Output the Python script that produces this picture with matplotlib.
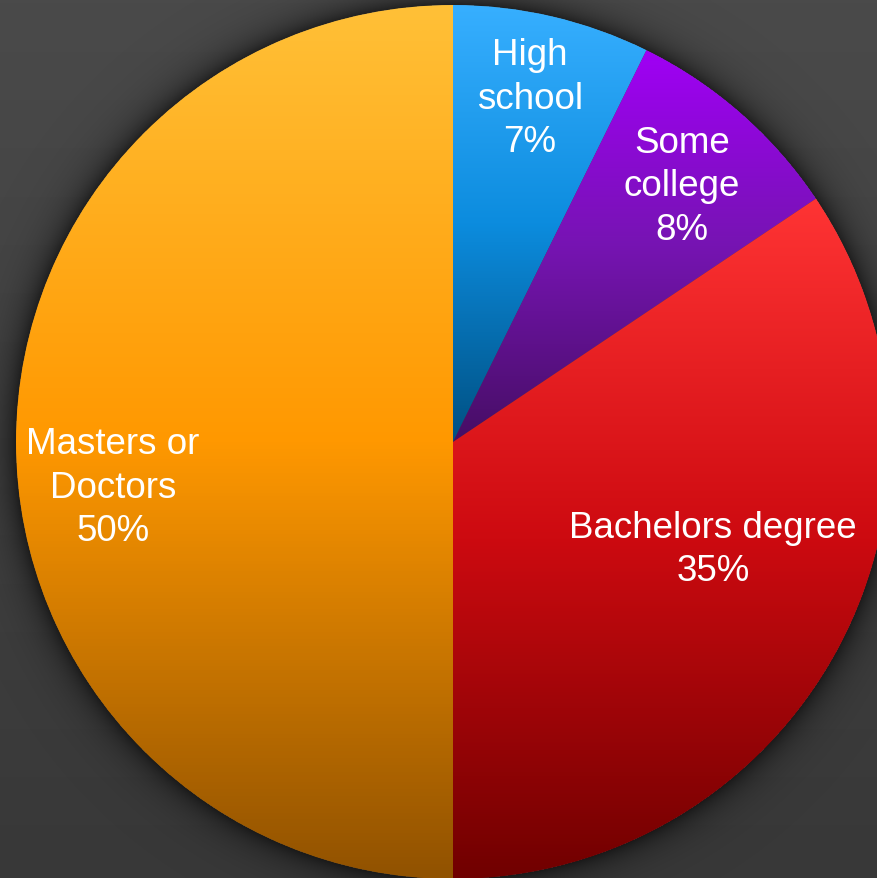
import numpy as np
import matplotlib
matplotlib.use("Agg")
import matplotlib.pyplot as plt
from matplotlib.colors import LinearSegmentedColormap

# ---- data ----
categories = ["High\nschool", "Some\ncollege", "Bachelors degree", "Masters or\nDoctors"]
shares = [7.3, 8.3, 34.4, 50.0]          # wedge sizes as measured from the angles
pct_labels = ["7%", "8%", "35%", "50%"]   # percentages printed on the chart

# ---- styling ----
W, H = 877, 879
top_cols = [(55, 175, 255), (160, 0, 245), (255, 52, 52), (255, 192, 55)]
mid_cols = [(12, 140, 222), (118, 20, 178), (205, 10, 16), (255, 152, 0)]
bot_cols = [(0, 80, 130), (70, 14, 100), (112, 0, 0), (145, 82, 0)]
label_xy = [(530, 99), (682, 187), (713, 550), (113, 488)]  # pixel positions (top-left origin)

cx, cy_pix, R = 453, 443, 437
cy = H - cy_pix

fig = plt.figure(figsize=(W / 100, H / 100), dpi=100)
ax = fig.add_axes([0, 0, 1, 1])

# background
yy = np.linspace(0, 1, 200)[:, None]
top_bg = np.array([74, 74, 74]) / 255
bot_bg = np.array([56, 56, 56]) / 255
bg = (top_bg * (1 - yy) + bot_bg * yy).reshape(200, 1, 3)
ax.imshow(bg, extent=[0, W, 0, H], origin="upper", aspect="auto", zorder=0)

# soft shadow around the pie
gx, gy = np.meshgrid(np.arange(W) + 0.5, np.arange(H) + 0.5)
d = np.sqrt((gx - cx) ** 2 + (gy - cy_pix) ** 2) - R
alpha = np.where(d > 0, 0.55 * np.exp(-d / 15.0), 0.0)
sh = np.zeros((H, W, 4))
sh[..., 3] = alpha
ax.imshow(sh, extent=[0, W, 0, H], origin="upper", aspect="auto", zorder=1)

wedges, _ = ax.pie(shares, startangle=90, counterclock=False, radius=R,
                   center=(cx, cy), wedgeprops=dict(linewidth=0))

for i, w in enumerate(wedges):
    w.set_facecolor("none")
    w.set_zorder(2)
    th = np.radians(np.linspace(w.theta1, w.theta2, 400))
    ys = np.concatenate([cy + R * np.sin(th), [cy]])
    xs = np.concatenate([cx + R * np.cos(th), [cx]])
    y0, y1 = ys.min(), ys.max()
    x0, x1 = xs.min(), xs.max()
    cmap = LinearSegmentedColormap.from_list(
        f"g{i}", [np.array(top_cols[i]) / 255, np.array(mid_cols[i]) / 255,
                  np.array(bot_cols[i]) / 255])
    grad = np.linspace(0, 1, 256)[:, None]
    im = ax.imshow(grad, cmap=cmap, extent=[x0, x1, y0, y1], origin="upper",
                   aspect="auto", zorder=3, interpolation="bilinear")
    im.set_clip_path(w)

for i, (lx, ly) in enumerate(label_xy):
    ax.text(lx, H - ly, f"{categories[i]}\n{pct_labels[i]}", ha="center", va="center",
            color="white", fontsize=26.5, family="Liberation Sans", linespacing=1.3,
            zorder=5)

ax.set_xlim(0, W)
ax.set_ylim(0, H)
ax.set_aspect("auto")
ax.axis("off")
fig.savefig("out.png", dpi=100)
